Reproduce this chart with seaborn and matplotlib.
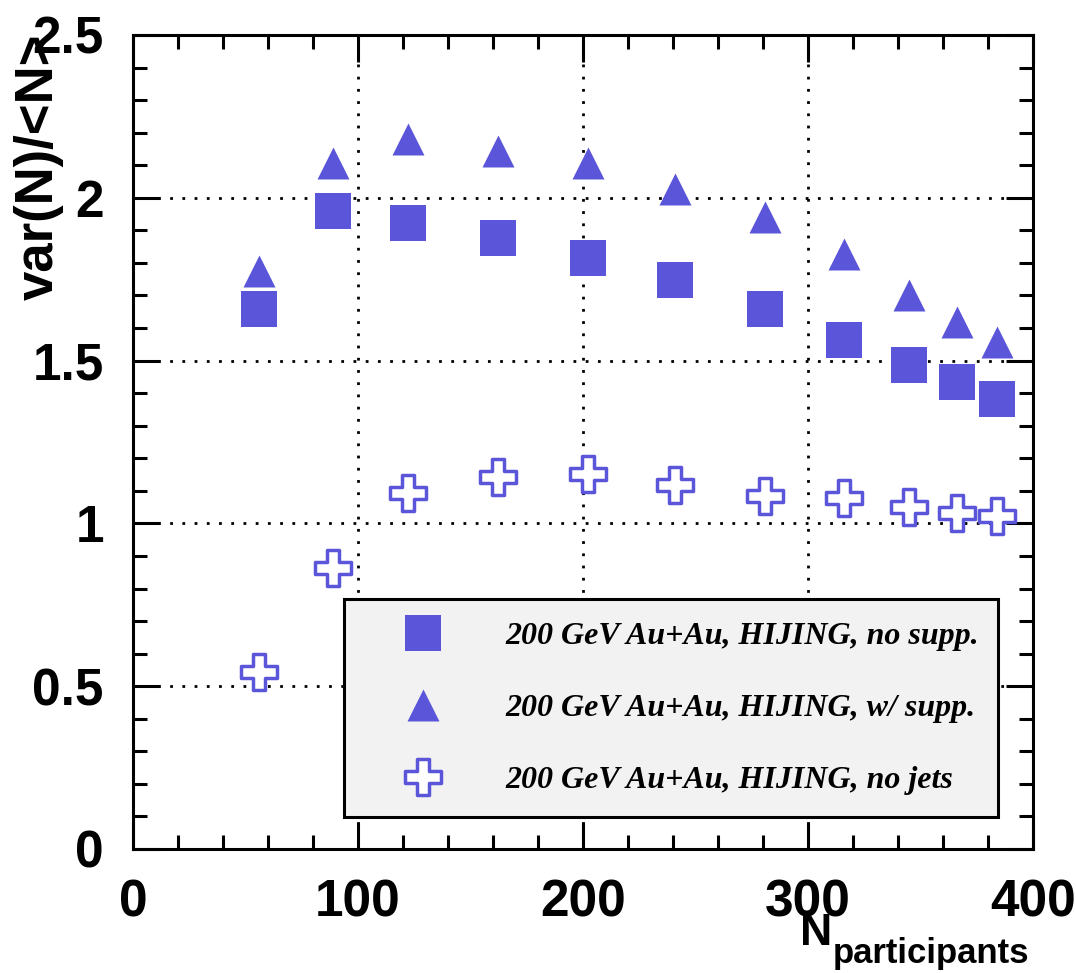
import matplotlib
matplotlib.use("Agg")
import matplotlib.pyplot as plt
import seaborn as sns
import numpy as np
import pandas as pd
from matplotlib.ticker import MultipleLocator

# ---- data ----
npart = [56, 89, 122, 162, 202, 241, 281, 316, 345, 366, 384]
no_supp = [1.660, 1.959, 1.924, 1.878, 1.815, 1.749, 1.660, 1.562, 1.488, 1.434, 1.381]
w_supp = [1.774, 2.108, 2.182, 2.145, 2.108, 2.027, 1.942, 1.827, 1.701, 1.620, 1.557]
no_jets = [0.544, 0.862, 1.093, 1.142, 1.152, 1.118, 1.085, 1.078, 1.050, 1.032, 1.024]
labels = ["200 GeV Au+Au, HIJING, no supp.",
          "200 GeV Au+Au, HIJING, w/ supp.",
          "200 GeV Au+Au, HIJING, no jets"]
xticks = [0, 100, 200, 300, 400]
xtick_labels = ["0", "100", "200", "300", "400"]
yticks = [0, 0.5, 1.0, 1.5, 2.0, 2.5]
ytick_labels = ["0", "0.5", "1", "1.5", "2", "2.5"]

BLUE = "#5A55D9"

sns.set_style("ticks")
plt.rcParams["font.family"] = ["Liberation Sans", "DejaVu Sans"]
plt.rcParams["font.weight"] = "bold"
for k in ["text.color", "axes.labelcolor", "xtick.color", "ytick.color",
          "axes.edgecolor", "xtick.labelcolor", "ytick.labelcolor"]:
    plt.rcParams[k] = "black"

W, H = 1076, 973
fig = plt.figure(figsize=(W / 100, H / 100), dpi=100)
ax = fig.add_axes([133 / W, 1 - 849 / H, 900 / W, (849 - 35) / H])

sns.scatterplot(x=npart, y=no_supp, marker="s", s=676, color=BLUE,
                linewidth=0, ax=ax, label=labels[0], zorder=3)
sns.scatterplot(x=npart, y=w_supp, marker="^", s=530, color=BLUE,
                linewidth=0, ax=ax, label=labels[1], zorder=3)
sns.scatterplot(x=npart, y=no_jets, marker="P", s=660, color="white",
                edgecolor=BLUE, linewidth=2.5, ax=ax, label=labels[2], zorder=3)

ax.set_xlim(0, 400)
ax.set_ylim(0, 2.5)
ax.set_xticks(xticks, labels=xtick_labels)
ax.set_yticks(yticks, labels=ytick_labels)
ax.xaxis.set_minor_locator(MultipleLocator(20))
ax.yaxis.set_minor_locator(MultipleLocator(0.1))
ax.set_xlabel("")
ax.set_ylabel("")

ax.grid(True, which="major", color="black", linestyle=(0, (1, 3.4)), linewidth=2.0)
ax.set_axisbelow(False)

ax.tick_params(which="both", direction="in", top=True, right=True,
               width=2.2, color="black", labelcolor="black")
ax.tick_params(which="major", length=19.5, pad=21, labelsize=37)
ax.tick_params(which="minor", length=10)
for lab in ax.get_xticklabels() + ax.get_yticklabels():
    lab.set_fontweight("bold")
for sp in ax.spines.values():
    sp.set_linewidth(2.2)
    sp.set_color("black")
    sp.set_visible(True)

leg = ax.legend(loc="lower left", bbox_to_anchor=(0.234, 0.039, 0.727, 0.263),
                mode="expand", borderaxespad=0, frameon=True, fancybox=False,
                framealpha=1, facecolor="#f2f2f2", edgecolor="black",
                prop={"family": "Liberation Serif", "weight": "bold",
                      "style": "italic", "size": 23},
                borderpad=0.7, labelspacing=1.33, handlelength=3.56,
                handletextpad=0.8, scatterpoints=1, scatteryoffsets=[0.5])
leg.get_frame().set_linewidth(2.2)
leg.set_zorder(10)
for t in leg.get_texts():
    t.set_color("black")

fig.text(64 / W, 1 - 33 / H, "var(N)/<N>", rotation=90, ha="right", va="top",
         fontsize=38, fontweight="bold", family="Liberation Sans", color="black")
fig.text(832 / W, 1 - 945 / H, "N", ha="right", va="baseline",
         fontsize=32, fontweight="bold", family="Liberation Sans", color="black")
fig.text(833 / W, 1 - 963 / H, "participants", ha="left", va="baseline",
         fontsize=25, fontweight="bold", family="Liberation Sans", color="black")

fig.savefig("out.png", dpi=100, facecolor="white")
